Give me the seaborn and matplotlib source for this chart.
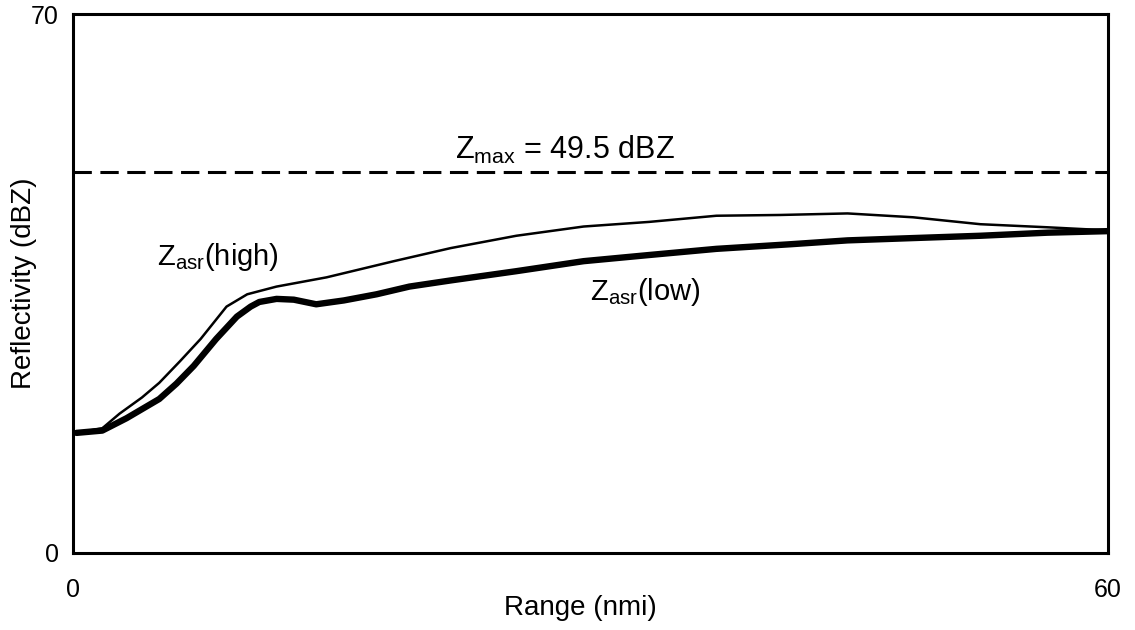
import numpy as np
import pandas as pd
import matplotlib
matplotlib.use("Agg")
import matplotlib.pyplot as plt
import seaborn as sns

# values
range_low = [0.2, 1.7, 3.1, 5.0, 6.0, 7.0, 8.3, 9.5, 10.3, 10.8, 11.8, 12.8, 14.1, 15.7, 17.6,
             19.5, 21.9, 25.7, 29.6, 33.4, 37.3, 41.6, 44.9, 48.7, 52.6, 56.5, 60.0]
z_low = [15.6, 15.9, 17.5, 20.0, 22.0, 24.3, 27.8, 30.7, 32.0, 32.6, 33.0, 32.9, 32.3, 32.8, 33.6,
         34.6, 35.4, 36.6, 37.9, 38.7, 39.5, 40.1, 40.6, 40.9, 41.2, 41.6, 41.8]

range_high = [0.2, 1.7, 2.7, 4.0, 5.0, 6.2, 7.4, 8.9, 10.1, 11.8, 14.7, 18.6, 21.9, 25.7, 29.6,
              33.4, 37.3, 41.0, 44.9, 48.7, 52.6, 56.5, 60.0]
z_high = [15.6, 16.2, 18.1, 20.2, 22.1, 24.9, 27.8, 32.0, 33.6, 34.6, 35.8, 37.9, 39.6, 41.2, 42.4,
          43.0, 43.8, 43.9, 44.1, 43.6, 42.7, 42.3, 41.9]

z_max = 49.5
x_ticks = [0, 60]
y_ticks = [0, 70]

sns.set_style("white")
plt.rcParams['font.family'] = ['Liberation Sans', 'DejaVu Sans']
plt.rcParams['mathtext.fontset'] = 'custom'
plt.rcParams['mathtext.rm'] = 'Liberation Sans'
plt.rcParams['mathtext.it'] = 'Liberation Sans'
plt.rcParams['text.color'] = 'black'
plt.rcParams['axes.labelcolor'] = 'black'
plt.rcParams['xtick.color'] = 'black'
plt.rcParams['ytick.color'] = 'black'

fig = plt.figure(figsize=(11.35, 6.3), dpi=100)
ax = fig.add_axes([73 / 1135, 1 - 553 / 630, 1035 / 1135, 539 / 630])

df_low = pd.DataFrame({"range": range_low, "z": z_low})
df_high = pd.DataFrame({"range": range_high, "z": z_high})

sns.lineplot(data=df_high, x="range", y="z", ax=ax, color="black", linewidth=1.8)
sns.lineplot(data=df_low, x="range", y="z", ax=ax, color="black", linewidth=4.6,
             solid_capstyle="round", solid_joinstyle="round")
ax.axhline(z_max, color="black", linewidth=2.2, dashes=(6, 2.8))

ax.set_xlim(0, 60)
ax.set_ylim(0, 70)
ax.set_xticks(x_ticks)
ax.set_yticks(y_ticks)
ax.tick_params(length=0, labelsize=18)
ax.tick_params(axis="x", pad=18)
ax.tick_params(axis="y", pad=10)
for s in ax.spines.values():
    s.set_linewidth(2.2)
    s.set_color("black")

ax.set_xlabel("Range (nmi)", fontsize=20, va="center")
ax.set_ylabel("Reflectivity (dBZ)", fontsize=20, va="center")
ax.xaxis.set_label_coords(0.49, -0.102)
ax.yaxis.set_label_coords(-0.047, 0.5)

ax.text(28.5, 52.4, r"Z$_{\mathrm{max}}$ = 49.5 dBZ", fontsize=22, ha="center", va="center")
ax.text(8.4, 38.4, r"Z$_{\mathrm{asr}}$(high)", fontsize=21, ha="center", va="center")
ax.text(33.2, 33.9, r"Z$_{\mathrm{asr}}$(low)", fontsize=21, ha="center", va="center")

fig.savefig("out.png", dpi=100)
